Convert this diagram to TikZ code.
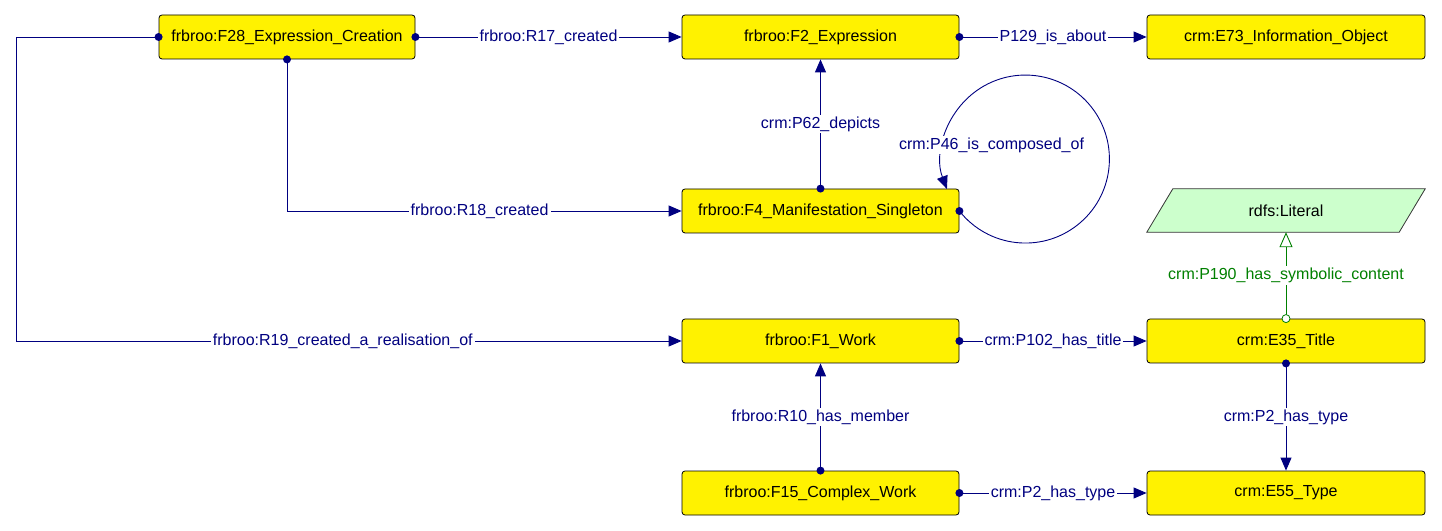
\documentclass[tikz,border=0pt]{standalone}
\usepackage{fontspec}
\setmainfont{Liberation Sans}
\usetikzlibrary{arrows.meta,backgrounds}
\definecolor{navyc}{RGB}{0,0,128}
\definecolor{greenc}{RGB}{0,128,0}
\definecolor{litfill}{RGB}{204,255,204}
\begin{document}
\begin{tikzpicture}[x=1pt,y=1pt,
  font=\fontsize{16}{19}\selectfont,
  cls/.style={draw=black, fill=yellow, rounded corners=3pt, minimum height=44pt, minimum width=277pt, inner sep=0pt, line width=0.8pt},
  edge/.style={draw=navyc, line width=0.9pt, -{Triangle[length=13pt,width=11pt]}},
  elabel/.style={fill=white, text=navyc, inner sep=2pt},
  gedge/.style={draw=greenc, line width=0.9pt, -{Triangle[open,length=15pt,width=13pt]}},
  glabel/.style={fill=white, text=greenc, inner sep=2pt}
]
\useasboundingbox (0,0) rectangle (1442,530);
% nodes
\node[cls, minimum width=256pt] (F28) at (287,493) {frbroo:F28\_Expression\_Creation};
\node[cls] (F2) at (820.5,493) {frbroo:F2\_Expression};
\node[cls, minimum width=278pt] (E73) at (1286,493) {crm:E73\_Information\_Object};
\node[cls] (F4) at (820.5,319) {frbroo:F4\_Manifestation\_Singleton};
\node[minimum width=252pt, minimum height=43pt, inner sep=0pt] (Lit) at (1286,319.5) {rdfs:Literal};
\begin{scope}[on background layer]
\draw[fill=litfill, draw=black!80, line width=0.8pt] ([xshift=-13pt]Lit.south west) -- ([xshift=-13pt]Lit.south east) -- ([xshift=13pt]Lit.north east) -- ([xshift=13pt]Lit.north west) -- cycle;
\end{scope}
\node[cls] (F1) at (820.5,189) {frbroo:F1\_Work};
\node[cls, minimum width=278pt] (E35) at (1286,189) {crm:E35\_Title};
\node[cls] (F15) at (820.5,37) {frbroo:F15\_Complex\_Work};
\node[cls, minimum width=278pt] (E55) at (1286,37) {crm:E55\_Type};
\coordinate (c1) at (16,493);
% edges
\draw[edge] (F28.east) -- node[elabel]{frbroo:R17\_created} (F2.west);
\draw[edge] (F2.east) -- node[elabel]{P129\_is\_about} (E73.west);
\draw[edge] (F4.north) -- node[elabel]{crm:P62\_depicts} (F2.south);
\draw[edge] (F28.south) |- node[elabel, pos=0.744]{frbroo:R18\_created} (F4.west);
\draw[edge] (F28.west) -- (c1) |- node[elabel, pos=0.7455]{frbroo:R19\_created\_a\_realisation\_of} (F1.west);
\draw[edge] (F4.east) arc[start angle=218.2, end angle=560.9, radius=84];
\node[elabel] (L46) at (991.5,385) {crm:P46\_is\_composed\_of};
\draw[edge] (F1.east) -- node[elabel]{crm:P102\_has\_title} (E35.west);
\draw[edge] (F15.north) -- node[elabel]{frbroo:R10\_has\_member} (F1.south);
\draw[edge] (E35.south) -- node[elabel]{crm:P2\_has\_type} (E55.north);
\draw[edge] (F15.east) -- node[elabel]{crm:P2\_has\_type} (E55.west);
\draw[gedge] (E35.north) -- node[glabel]{crm:P190\_has\_symbolic\_content} (Lit.south);
% start markers
\foreach \p in {F28.east, F2.east, F4.north, F28.south, F28.west, F4.east, F1.east, F15.north, E35.south, F15.east}
  \fill[navyc] (\p) circle (4pt);
\draw[greenc, fill=white, line width=0.8pt] (E35.north) circle (4pt);
\end{tikzpicture}
\end{document}
